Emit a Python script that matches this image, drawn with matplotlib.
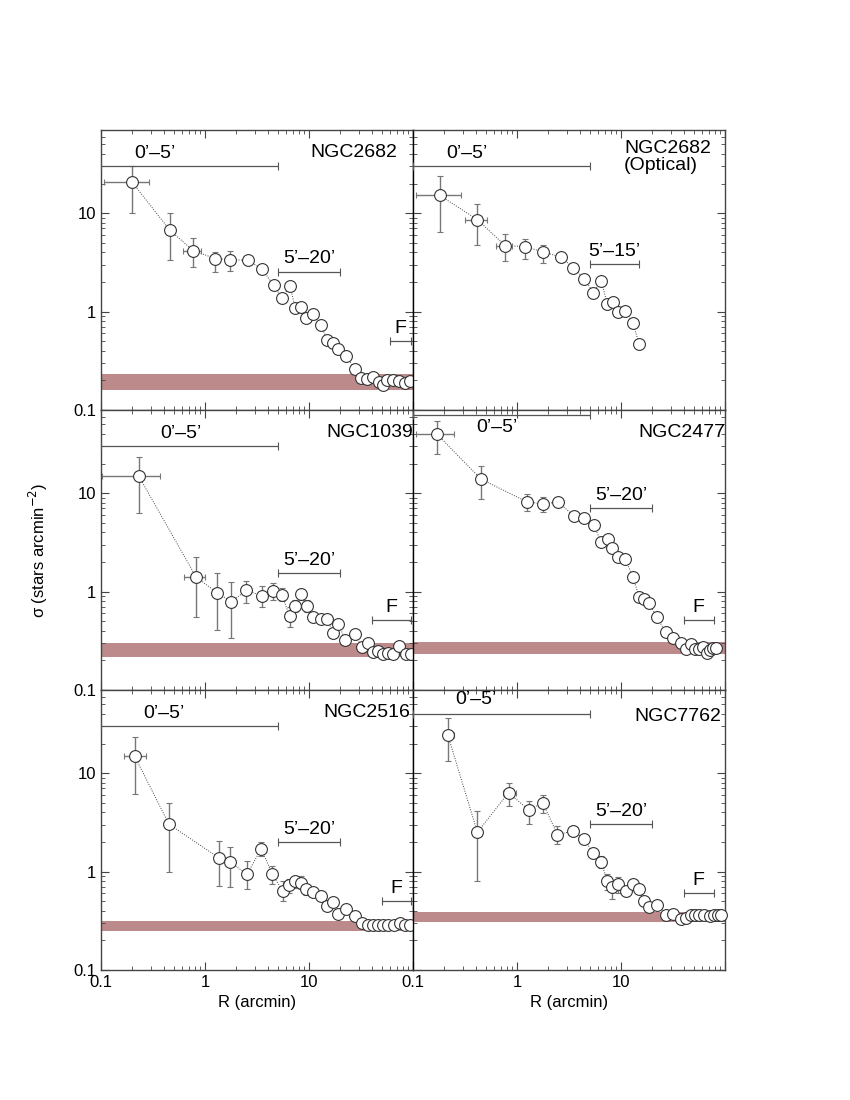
import numpy as np
import matplotlib
matplotlib.use("Agg")
import matplotlib.pyplot as plt
from matplotlib.ticker import FixedLocator, NullFormatter

plt.rcParams["font.family"] = ["Liberation Sans", "DejaVu Sans"]

nan = np.nan

# ----------
#  DATA
# ----------
names = ["NGC2682", "NGC2682\n(Optical)", "NGC1039", "NGC2477", "NGC2516", "NGC7762"]

x1 = [0.20, 0.46, 0.77, 1.26, 1.75, 2.57, 3.53, 4.57, 5.5, 6.56, 7.38, 8.43, 9.4, 10.9, 13.0,
      14.9, 16.9, 19.0, 22.7, 27.7, 31.8, 36.3, 41.5, 47.1, 51.9, 56.6, 64.6, 73.3, 83.2, 93.4]
y1 = [20.5, 6.7, 4.17, 3.45, 3.37, 3.32, 2.71, 1.85, 1.38, 1.81, 1.1, 1.12, 0.87, 0.95, 0.73,
      0.52, 0.48, 0.42, 0.356, 0.26, 0.209, 0.205, 0.214, 0.193, 0.18, 0.2, 0.2, 0.198, 0.19, 0.198]
ylo1 = [10.0, 3.35, 2.82, 2.55, 2.6, 3.0, 2.5, 1.7, 1.25]
yhi1 = [30.0, 10.0, 5.57, 4.0, 4.1, 3.7, 2.95, 2.0, 1.5]
xlo1 = [0.107, nan, 0.62]
xhi1 = [0.29, nan, 0.92]

x2 = [0.18, 0.416, 0.77, 1.2, 1.78, 2.62, 3.49, 4.45, 5.4, 6.44, 7.4, 8.4, 9.4, 10.9, 13.0, 14.9]
y2 = [15.2, 8.6, 4.68, 4.57, 4.04, 3.59, 2.8, 2.15, 1.56, 2.06, 1.19, 1.26, 1.0, 1.02, 0.77, 0.47]
ylo2 = [6.5, 4.77, 3.3, 3.4, 3.1, 3.2]
yhi2 = [24.1, 12.4, 6.1, 5.5, 4.8, 3.95]
xlo2 = [0.106, 0.314, 0.63]
xhi2 = [0.29, 0.515, 0.9]

x3 = [0.23, 0.82, 1.3, 1.79, 2.5, 3.55, 4.54, 5.5, 6.5, 7.4, 8.4, 9.5, 10.9, 12.9, 15.0, 16.9,
      19.1, 22.4, 27.5, 32.1, 37.2, 41.6, 46.4, 51.2, 57.5, 64.6, 73.8, 85, 95]
y3 = [15.0, 1.41, 0.975, 0.79, 1.03, 0.9, 1.01, 0.92, 0.565, 0.71, 0.94, 0.72, 0.556, 0.53,
      0.53, 0.38, 0.47, 0.32, 0.37, 0.275, 0.3, 0.245, 0.25, 0.23, 0.235, 0.23, 0.28, 0.23, 0.23]
ylo3 = [6.3, 0.556, 0.41, 0.34, 0.77, 0.7, 0.83, 0.8, 0.44, 0.62, 0.82, 0.62, nan, nan, nan, 0.34]
yhi3 = [23.5, 2.27, 1.53, 1.24, 1.29, 1.15, 1.23, 1.1, 0.7, 0.82, 1.05, 0.82, nan, nan, nan, 0.42]
xlo3 = [0.103, 0.63]
xhi3 = [0.37, 1.01]

x4 = [0.17, 0.45, 1.25, 1.76, 2.5, 3.5, 4.43, 5.44, 6.44, 7.57, 8.27, 9.4, 11.0, 13.0, 14.9,
      16.8, 18.6, 22.1, 26.9, 31.9, 37.5, 42.2, 46.8, 51.4, 56.5, 61.8, 66.5, 71.6, 77, 81.8]
y4 = [39.8, 13.9, 8.15, 7.8, 8.1, 5.9, 5.65, 4.75, 3.22, 3.4, 2.8, 2.23, 2.13, 1.41, 0.89,
      0.835, 0.77, 0.547, 0.39, 0.335, 0.3, 0.26, 0.293, 0.26, 0.26, 0.275, 0.235, 0.255, 0.265, 0.27]
ylo4 = [25.0, 8.7, 6.6, 6.5]
yhi4 = [54.0, 19.0, 9.8, 9.2]
xlo4 = [0.106]
xhi4 = [0.25]

x5 = [0.21, 0.45, 1.36, 1.75, 2.54, 3.47, 4.44, 5.58, 6.46, 7.38, 8.43, 9.35, 10.9, 13.0, 14.9,
      16.9, 19.0, 22.5, 27.7, 32.1, 36.9, 41.6, 46.4, 51.9, 58, 65, 74.2, 83.3, 93]
y5 = [15.0, 3.03, 1.38, 1.24, 0.94, 1.71, 0.94, 0.64, 0.725, 0.8, 0.77, 0.67, 0.615, 0.565,
      0.45, 0.49, 0.37, 0.42, 0.35, 0.302, 0.286, 0.286, 0.286, 0.286, 0.286, 0.286, 0.3, 0.285, 0.285]
ylo5 = [6.2, 1.0, 0.71, 0.7, 0.67, 1.45, 0.75, 0.5, 0.6, 0.68, 0.66, 0.58, nan, nan, nan, nan, 0.34]
yhi5 = [23.5, 5.0, 2.06, 1.79, 1.29, 2.0, 1.15, 0.8, 0.85, 0.88, 0.9, 0.75, nan, nan, nan, nan, 0.4]
xlo5 = [0.166]
xhi5 = [0.27]

x6 = [0.216, 0.416, 0.83, 1.29, 1.78, 2.45, 3.47, 4.45, 5.4, 6.4, 7.4, 8.27, 9.4, 11.1, 13.0,
      14.8, 16.8, 18.6, 22.4, 27.2, 31.9, 37.8, 42.2, 46.8, 51.4, 56.5, 63.3, 71.6, 78.7, 86, 92]
y6 = [24.5, 2.51, 6.35, 4.24, 4.95, 2.36, 2.6, 2.13, 1.53, 1.26, 0.81, 0.69, 0.75, 0.64, 0.75,
      0.66, 0.5, 0.436, 0.46, 0.365, 0.37, 0.33, 0.34, 0.362, 0.362, 0.362, 0.362, 0.357, 0.36, 0.362, 0.362]
ylo6 = [13.3, 0.8, 4.6, 3.05, 3.9, 1.9, 2.3, nan, nan, 1.1, 0.65, 0.53, 0.6, 0.56, nan, nan, nan, 0.39]
yhi6 = [36.3, 4.16, 8.0, 5.25, 6.0, 2.9, 2.9, nan, nan, 1.45, 0.95, 0.78, 0.88, 0.72, nan, nan, nan, 0.48]
xlo6 = [0.2, nan, 0.74]
xhi6 = [0.246, nan, 0.97]

# background level bands (low, high)
bands = [(0.16, 0.23), None, (0.218, 0.298), (0.23, 0.309), (0.249, 0.316), (0.31, 0.39)]

# radial ranges: label, from, to, level
ranges = [
    [("0’–5’", 0.1, 5, 30), ("5’–20’", 5, 20, 2.55), ("F", 60, 95, 0.5)],
    [("0’–5’", 0.1, 5, 30), ("5’–15’", 5, 15, 3.03)],
    [("0’–5’", 0.1, 5, 30), ("5’–20’", 5, 20, 1.53), ("F", 40, 95, 0.51)],
    [("0’–5’", 0.1, 5, 62), ("5’–20’", 5, 20, 7.0), ("F", 40, 78, 0.51)],
    [("0’–5’", 0.1, 5, 30), ("5’–20’", 5, 20, 2.0), ("F", 50, 95, 0.5)],
    [("0’–5’", 0.1, 5, 40), ("5’–20’", 5, 20, 3.03), ("F", 40, 78, 0.6)],
]

panels = [
    (x1, y1, ylo1, yhi1, xlo1, xhi1),
    (x2, y2, ylo2, yhi2, xlo2, xhi2),
    (x3, y3, ylo3, yhi3, xlo3, xhi3),
    (x4, y4, ylo4, yhi4, xlo4, xhi4),
    (x5, y5, ylo5, yhi5, xlo5, xhi5),
    (x6, y6, ylo6, yhi6, xlo6, xhi6),
]

# ----------
#  LAYOUT
# ----------
band_color = "#bc8a8a"
err_color = "#777777"
frame_color = "#444444"

# where the "0'-5'" text sits (x centre, y centre) per panel
text05 = [(0.33, 40), (0.33, 40), (0.58, 40), (0.64, 46), (0.4, 40), (0.4, 56)]
name_pos = [(0.95, 0.92), (0.955, 0.905), (1.0, 0.92), (1.0, 0.92), (0.99, 0.92), (0.987, 0.905)]


def pad(lst, n):
    a = np.full(n, nan)
    a[:len(lst)] = lst
    return a


fig = plt.figure(figsize=(8.5, 11), dpi=100)
left, colw = 101 / 850, 312 / 850
rowh = 280 / 1100
bottom = 1 - 970 / 1100

axes = []
for i in range(6):
    row, col = divmod(i, 2)
    ax = fig.add_axes([left + col * colw, bottom + (2 - row) * rowh, colw, rowh])
    axes.append(ax)

for i, ax in enumerate(axes):
    row, col = divmod(i, 2)
    x, y, ylo, yhi, xlo, xhi = panels[i]
    x = np.array(x)
    y = np.array(y)
    n = len(x)
    ylo, yhi = pad(ylo, n), pad(yhi, n)
    xlo, xhi = pad(xlo, n), pad(xhi, n)

    ax.set_xscale("log")
    ax.set_yscale("log")
    ax.set_xlim(0.1, 100)
    ax.set_ylim(0.1, 70)

    if bands[i] is not None:
        ax.axhspan(bands[i][0], bands[i][1], color=band_color, lw=0, zorder=1)

    ax.plot(x, y, ls=(0, (1, 1.5)), lw=0.7, color="#444444", zorder=2)
    ax.errorbar(x, y, yerr=[y - ylo, yhi - y], xerr=[x - xlo, xhi - x], fmt="none",
                ecolor=err_color, elinewidth=1.0, capsize=2.5, capthick=0.8, zorder=3)
    ax.plot(x, y, "o", ms=8.5, mfc="white", mec="#333333", mew=0.8, zorder=4, clip_on=False)

    for j, (lab, r0, r1, lev) in enumerate(ranges[i]):
        xc = np.sqrt(r0 * r1)
        ax.errorbar([xc], [lev], xerr=[[xc - r0], [r1 - xc]], fmt="none",
                    ecolor="#555555", elinewidth=0.9, capsize=3, capthick=0.8, zorder=3,
                    clip_on=False)
        if j == 0:
            tx, ty = text05[i]
            ax.text(tx, ty, lab, fontsize=14, ha="center", va="center")
        else:
            ax.annotate(lab, (xc, lev), xytext=(0, 3), textcoords="offset points",
                        fontsize=14, ha="center", va="bottom")

    nx, ny = name_pos[i]
    ax.text(nx, ny, names[i], transform=ax.transAxes, fontsize=14, ha="right", va="center",
            multialignment="left", linespacing=1.0, zorder=6)

    ax.tick_params(which="both", direction="in", top=True, right=True, labelsize=12,
                   colors=frame_color)
    ax.tick_params(which="major", length=6)
    ax.tick_params(which="minor", length=3)
    for sp in ax.spines.values():
        sp.set_color(frame_color)
        sp.set_linewidth(1.0)

    ax.xaxis.set_major_locator(FixedLocator([0.1, 1, 10, 100]))
    ax.set_xticklabels(["0.1", "1", "10", ""])
    ax.yaxis.set_major_locator(FixedLocator([0.1, 1, 10]))
    ax.set_yticklabels(["0.1", "1", "10"])
    ax.tick_params(labelcolor="black")
    if col == 1:
        ax.yaxis.set_major_formatter(NullFormatter())
        ax.spines["left"].set_color("black")
    if row < 2:
        ax.xaxis.set_major_formatter(NullFormatter())
    else:
        ax.set_xlabel("R (arcmin)", fontsize=12, labelpad=4)

fig.text(0.045, 0.5, "σ (stars arcmin$^{-2}$)", rotation=90, fontsize=12,
         ha="center", va="center")

fig.savefig("out.png", dpi=100)
